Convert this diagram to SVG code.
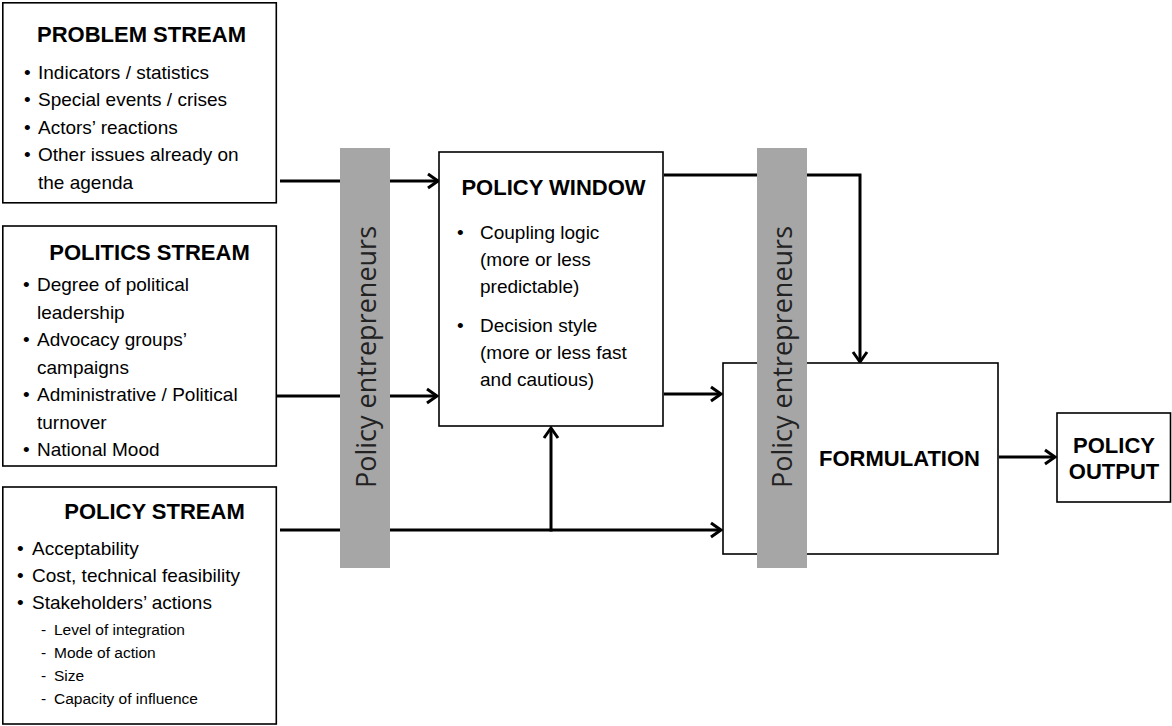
<svg xmlns="http://www.w3.org/2000/svg" width="1172" height="726" viewBox="0 0 1172 726">
  <defs>
    <marker id="chev" markerUnits="userSpaceOnUse" markerWidth="16" markerHeight="18" viewBox="0 0 16 18" refX="13" refY="9" orient="auto">
      <path d="M3,2 L13,9 L3,16" fill="none" stroke="#000" stroke-width="3" stroke-linejoin="miter"/>
    </marker>
  </defs>
  <style>
    .box { fill: #fff; stroke: #000; stroke-width: 1.6; }
    .bar { fill: #a6a6a6; }
    .title { font-family: "Liberation Sans", Arial, sans-serif; font-weight: bold; font-size: 22px; fill: #000; text-anchor: middle; }
    .item { font-family: "Liberation Sans", Arial, sans-serif; font-size: 19px; fill: #000; }
    .sub { font-family: "Liberation Sans", Arial, sans-serif; font-size: 15.5px; fill: #000; }
    .vert { font-family: "Open Sans", "DejaVu Sans", sans-serif; font-size: 27px; fill: #222; text-anchor: middle; }
    .conn { fill: none; stroke: #000; stroke-width: 3; }
    .arrow { marker-end: url(#chev); }
  </style>

  <rect width="1172" height="726" fill="#fff"/>

  <!-- connectors -->
  <g id="connectors">
    <line class="conn arrow" x1="280" y1="181" x2="438" y2="181"/>
    <line class="conn arrow" x1="277" y1="396" x2="437" y2="396"/>
    <line class="conn arrow" x1="280" y1="530" x2="721" y2="530"/>
    <line class="conn arrow" x1="551" y1="531.5" x2="551" y2="428"/>
    <line class="conn arrow" x1="664" y1="394" x2="721" y2="394"/>
    <polyline class="conn arrow" points="664,175 860,175 860,362"/>
    <line class="conn arrow" x1="999" y1="457" x2="1055" y2="457"/>
  </g>

  <!-- stream boxes -->
  <g id="problem-stream">
    <rect class="box" x="2.8" y="2.8" width="273.5" height="200"/>
    <text class="title" x="141.5" y="42">PROBLEM STREAM</text>
    <text class="item" x="24" y="79">•</text><text class="item" x="38" y="79">Indicators / statistics</text>
    <text class="item" x="24" y="106">•</text><text class="item" x="38" y="106">Special events / crises</text>
    <text class="item" x="24" y="134">•</text><text class="item" x="38" y="134">Actors’ reactions</text>
    <text class="item" x="24" y="161">•</text><text class="item" x="38" y="161">Other issues already on</text>
    <text class="item" x="38" y="189">the agenda</text>
  </g>

  <g id="politics-stream">
    <rect class="box" x="2.8" y="226" width="273.5" height="240"/>
    <text class="title" x="149.5" y="260">POLITICS STREAM</text>
    <text class="item" x="23" y="291">•</text><text class="item" x="37" y="291">Degree of political</text>
    <text class="item" x="37" y="318.5">leadership</text>
    <text class="item" x="23" y="346">•</text><text class="item" x="37" y="346">Advocacy groups’</text>
    <text class="item" x="37" y="373.5">campaigns</text>
    <text class="item" x="23" y="401">•</text><text class="item" x="37" y="401">Administrative / Political</text>
    <text class="item" x="37" y="428.5">turnover</text>
    <text class="item" x="23" y="456">•</text><text class="item" x="37" y="456">National Mood</text>
  </g>

  <g id="policy-stream">
    <rect class="box" x="2.8" y="487" width="273.5" height="237"/>
    <text class="title" x="154.5" y="519">POLICY STREAM</text>
    <text class="item" x="17" y="555">•</text><text class="item" x="32" y="555">Acceptability</text>
    <text class="item" x="17" y="582">•</text><text class="item" x="32" y="582">Cost, technical feasibility</text>
    <text class="item" x="17" y="609">•</text><text class="item" x="32" y="609">Stakeholders’ actions</text>
    <text class="sub" x="41" y="635">-</text><text class="sub" x="54" y="635">Level of integration</text>
    <text class="sub" x="41" y="658">-</text><text class="sub" x="54" y="658">Mode of action</text>
    <text class="sub" x="41" y="681">-</text><text class="sub" x="54" y="681">Size</text>
    <text class="sub" x="41" y="704">-</text><text class="sub" x="54" y="704">Capacity of influence</text>
  </g>

  <g id="policy-window">
    <rect class="box" x="439" y="152" width="224" height="274"/>
    <text class="title" x="553.5" y="195">POLICY WINDOW</text>
    <text class="item" x="457" y="239">•</text><text class="item" x="480" y="239">Coupling logic</text>
    <text class="item" x="480" y="266">(more or less</text>
    <text class="item" x="480" y="293">predictable)</text>
    <text class="item" x="457" y="332">•</text><text class="item" x="480" y="332">Decision style</text>
    <text class="item" x="480" y="359">(more or less fast</text>
    <text class="item" x="480" y="386">and cautious)</text>
  </g>

  <g id="formulation">
    <rect class="box" x="723" y="363" width="275" height="191"/>
    <text class="title" x="899.5" y="466">FORMULATION</text>
  </g>

  <g id="policy-output">
    <rect class="box" x="1057" y="413" width="113.5" height="89"/>
    <text class="title" x="1114" y="453">POLICY</text>
    <text class="title" x="1114" y="479">OUTPUT</text>
  </g>

  <!-- entrepreneur bands, drawn over the flows they cross -->
  <g id="entrepreneurs-left">
    <rect class="bar" x="340" y="148" width="50" height="420"/>
    <text class="vert" transform="translate(376,357) rotate(-90)">Policy entrepreneurs</text>
  </g>
  <g id="entrepreneurs-right">
    <rect class="bar" x="757" y="148" width="50" height="420"/>
    <text class="vert" transform="translate(792,357) rotate(-90)">Policy entrepreneurs</text>
  </g>
</svg>
